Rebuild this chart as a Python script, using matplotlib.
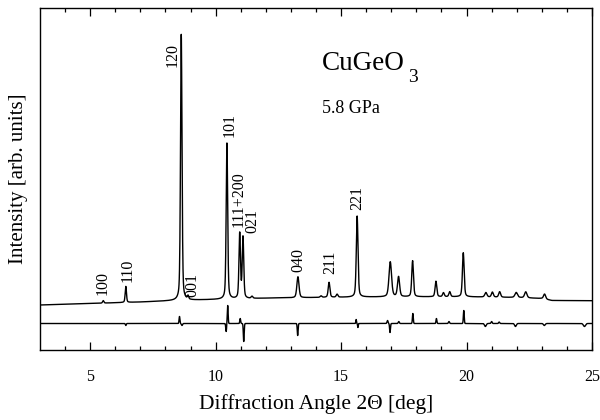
import numpy as np
import matplotlib
matplotlib.use("Agg")
import matplotlib.pyplot as plt

plt.rcParams['font.family'] = ['Liberation Serif', 'DejaVu Serif']

# Bragg peaks: position [deg], height above background, FWHM [deg]
peak_pos = [5.52, 6.42, 8.63, 8.90, 10.45, 10.96, 11.09, 11.45, 13.28, 14.20,
            14.52, 14.84, 15.64, 16.96, 17.29, 17.85, 18.78, 19.08, 19.33,
            19.87, 20.77, 21.03, 21.32, 21.98, 22.36, 23.11]
peak_h = [2.5, 16, 266, 3.5, 156, 65, 61, 2, 21, 1.5,
          15, 3, 81, 35, 20, 36, 15.5, 4, 5,
          44, 4.5, 5, 5.5, 5, 6, 5]
peak_w = [0.06, 0.06, 0.07, 0.06, 0.07, 0.07, 0.07, 0.08, 0.10, 0.08,
          0.08, 0.08, 0.08, 0.12, 0.10, 0.08, 0.08, 0.08, 0.08,
          0.08, 0.10, 0.09, 0.09, 0.12, 0.11, 0.10]

# background level under the pattern
bg_x = [3, 5, 7, 8.5, 10, 12, 14, 16, 18, 20, 22, 23.0, 23.4, 25]
bg_y = [0, 1.5, 3, 4.5, 5.5, 6.8, 7.5, 8.0, 8.2, 8.2, 7.5, 6.5, 4.5, 4.3]

# observed - calculated difference: position, amplitude, width
diff_pos = [6.42, 8.56, 8.66, 10.42, 10.48, 10.98, 11.12, 13.27, 15.60, 15.67,
            16.85, 16.95, 17.30, 17.86, 18.80, 19.30, 19.89, 20.75, 21.00,
            21.30, 21.95, 23.10, 24.70]
diff_amp = [-2, 7, -2, -8, 18, 5, -18, -12, 4, -4,
            3, -9, 2, 10, 5, 2, 13, -3, 2,
            1.5, -3, -2, -3]
diff_w = [0.04, 0.04, 0.05, 0.04, 0.04, 0.04, 0.04, 0.04, 0.03, 0.03,
          0.05, 0.04, 0.05, 0.04, 0.04, 0.05, 0.04, 0.08, 0.05,
          0.05, 0.08, 0.08, 0.10]
diff_offset = -18.5

# hkl labels: text, x, bottom of text
hkl = ['100', '110', '120', '001', '101', '111+200', '021', '040', '211', '221']
hkl_x = [5.48, 6.48, 8.28, 9.08, 10.56, 10.92, 11.48, 13.28, 14.56, 15.64]
hkl_y = [10, 23, 238, 8, 168, 78, 72, 33, 31, 95]

tth = np.linspace(3, 25, 4401)


def pvoigt(x, x0, h, w, eta=0.4):
    g = np.exp(-4 * np.log(2) * ((x - x0) / w) ** 2)
    l = 1 / (1 + 4 * ((x - x0) / w) ** 2)
    return h * (eta * l + (1 - eta) * g)


obs = np.interp(tth, bg_x, bg_y)
for p, h, w in zip(peak_pos, peak_h, peak_w):
    obs += pvoigt(tth, p, h, w)

diff = np.full_like(tth, diff_offset)
for p, a, w in zip(diff_pos, diff_amp, diff_w):
    diff += a * np.exp(-4 * np.log(2) * ((tth - p) / w) ** 2)

fig = plt.figure(figsize=(6, 4.2), dpi=100)
ax = fig.add_axes([40 / 600, 70 / 420, 552 / 600, 342 / 420])

ax.plot(tth, obs, color='black', lw=1.0)
ax.plot(tth, diff, color='black', lw=1.0)

ax.set_xlim(3, 25)
ax.set_ylim(-45, 297)
ax.set_yticks([])
ax.set_xticks([5, 10, 15, 20, 25])
ax.set_xticks(np.arange(4, 25, 1), minor=True)
ax.tick_params(axis='x', which='both', direction='in', top=True,
               labelsize=11.5, pad=14, width=0.9)
ax.tick_params(axis='x', which='major', length=6)
ax.tick_params(axis='x', which='minor', length=3)
for s in ax.spines.values():
    s.set_linewidth(1.0)

for t, x, y in zip(hkl, hkl_x, hkl_y):
    ax.text(x, y, t, rotation=90, ha='center', va='bottom', fontsize=11.5)

ax.text(14.24, 235, 'CuGeO', fontsize=19.5, va='baseline', ha='left')
ax.text(17.68, 223, '3', fontsize=14, va='baseline', ha='left')
ax.text(14.24, 192, '5.8 GPa', fontsize=13, va='baseline', ha='left')

ax.set_xlabel('Diffraction Angle 2\u0398 [deg]', fontsize=15.5)
ax.xaxis.set_label_coords(0.5, -0.13)
ax.set_ylabel('Intensity [arb. units]', fontsize=15)
ax.yaxis.set_label_coords(-0.022, 0.5)

fig.savefig('out.png', dpi=100)
